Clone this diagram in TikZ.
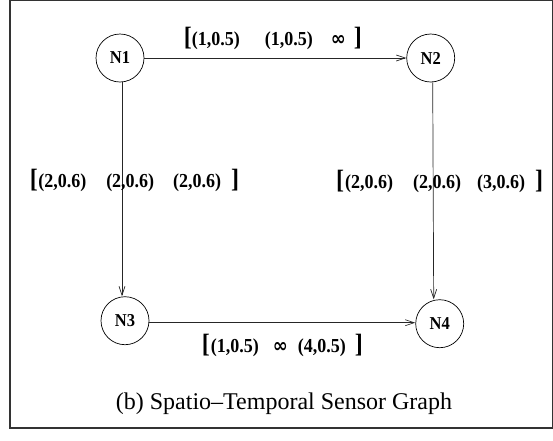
\documentclass[tikz,border=0pt]{standalone}
\usepackage{fontspec}
\setmainfont{Liberation Serif}
\newfontfamily\symbfont{DejaVu Sans}
\usepackage{graphicx}
\usetikzlibrary{arrows.meta,positioning}

\newcommand{\lbr}{{\fontsize{24}{24}\selectfont[}}
\newcommand{\rbr}{{\fontsize{24}{24}\selectfont]}}
\newcommand{\inft}{{\symbfont\bfseries ∞}}
\newcommand{\tallt}[1]{\scalebox{1}[1.1]{#1}}

\begin{document}
\begin{tikzpicture}[
    x=1pt, y=-1pt,
    sensor/.style={circle, draw, line width=0.7pt, minimum size=48pt, inner sep=0pt, font=\fontsize{16.5}{16.5}\selectfont\bfseries},
    link/.style={-{Straight Barb[length=9pt,width=6pt]}, line width=0.7pt, black!85},
    weights/.style={font=\fontsize{18}{20}\selectfont\bfseries, inner sep=0pt, text=black},
    node distance=262pt
]
\useasboundingbox (0,0) rectangle (553,440);
\draw[line width=1.2pt, black!80] (10,0.6) rectangle (552.4,428);

% Sensors
\node[sensor] (N1) at (120,58) {\tallt{N1}};
\node[sensor, right=of N1] (N2) {\tallt{N2}};
\node[sensor, below=214pt of N1, xshift=5pt] (N3) {\tallt{N3}};
\node[sensor, right=266pt of N3, yshift=-3pt] (N4) {\tallt{N4}};

% Links
\draw[link] (N1) -- node[weights, above=8pt, xshift=-2.5pt] {\tallt{\lbr\hspace{0pt}(1,0.5)\hspace{25pt}(1,0.5)\hspace{18pt}\inft\hspace{8pt}\rbr}} (N2);
\draw[link] ([xshift=2pt]N1.south) -- node[weights, pos=0.46, xshift=12.5pt] {\tallt{\lbr\hspace{0.5pt}(2,0.6)\hspace{20pt}(2,0.6)\hspace{19pt}(2,0.6)\hspace{10pt}\rbr}} ([xshift=-3pt]N3.north);
\draw[link] ([xshift=2pt]N2.south) -- node[weights, pos=0.457, xshift=6.5pt] {\tallt{\lbr\hspace{1pt}(2,0.6)\hspace{20pt}(2,0.6)\hspace{16pt}(3,0.6)\hspace{10pt}\rbr}} ([xshift=-6pt]N4.north);
\draw[link] ([yshift=-2pt]N3.east) -- node[weights, below=11pt] {\tallt{\lbr\hspace{1pt}(1,0.5)\hspace{14pt}\inft\hspace{10pt}(4,0.5)\hspace{9pt}\rbr}} ([yshift=1pt]N4.west);

% Caption
\node[font=\fontsize{24}{24}\selectfont] (caption) at (284,404) {(b) Spatio--Temporal Sensor Graph};
\end{tikzpicture}
\end{document}
